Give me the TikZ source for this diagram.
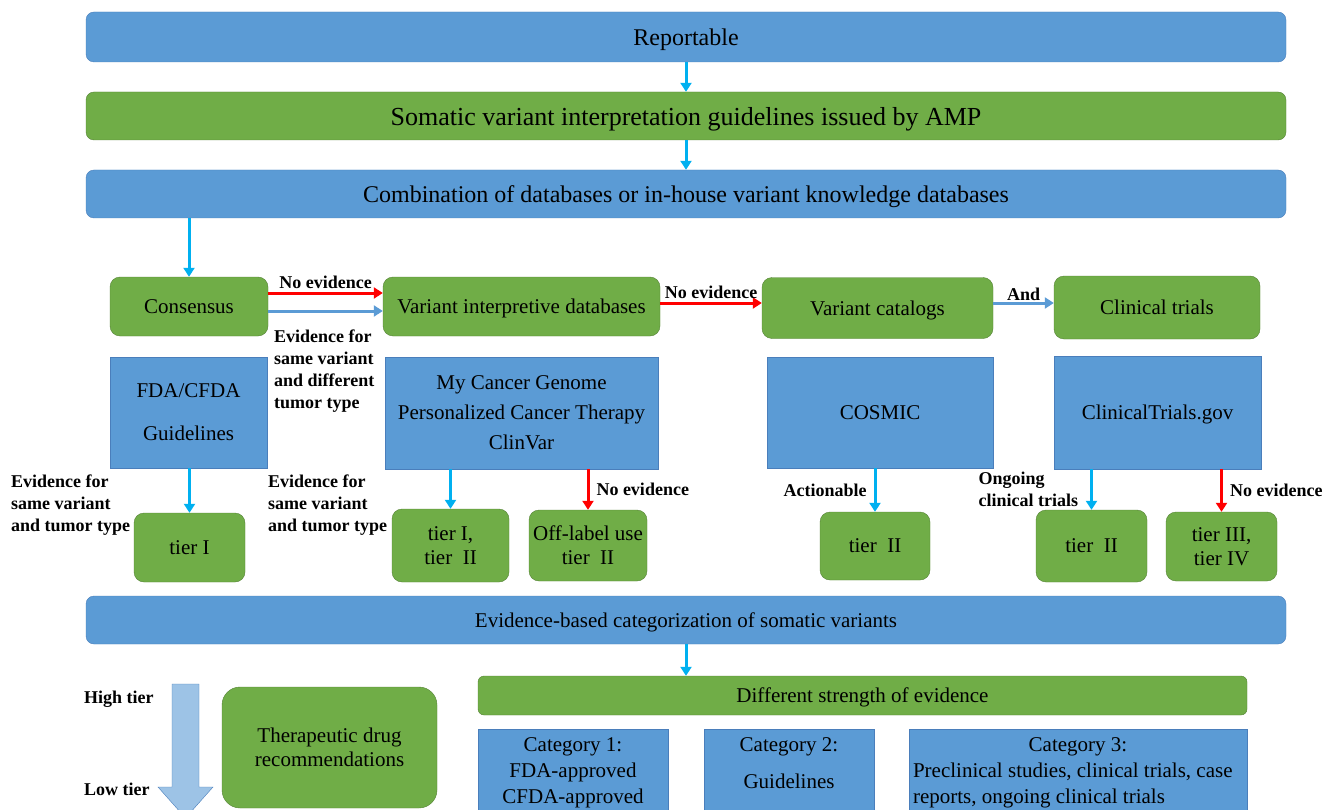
\documentclass[tikz,border=0pt]{standalone}
\usepackage{fontspec}
\setmainfont{Liberation Serif}
\usetikzlibrary{arrows.meta,calc}

\definecolor{boxblue}{HTML}{5B9BD5}
\definecolor{blueline}{HTML}{4A7EBB}
\definecolor{boxgreen}{HTML}{70AD47}
\definecolor{greenline}{HTML}{548235}
\definecolor{arrowblue}{HTML}{00B0F0}
\definecolor{tierblue}{HTML}{9DC3E6}

\tikzset{
  widebar/.style={draw=blueline, fill=boxblue, rounded corners=8pt, minimum width=1200pt, minimum height=48pt, inner sep=0pt, text depth=0pt, font=\fontsize{24}{28}\selectfont},
  greenbar/.style={widebar, draw=greenline, fill=boxgreen},
  greenbox/.style={draw=greenline, fill=boxgreen, rounded corners=10pt, align=center, inner sep=0pt, text depth=0pt, font=\fontsize{21}{24}\selectfont},
  dbbox/.style={draw=blueline, fill=boxblue, align=center, inner sep=0pt, text depth=0pt, font=\fontsize{21}{30}\selectfont},
  catbox/.style={draw=blueline, fill=boxblue, anchor=north, inner xsep=0pt, inner ysep=8pt, font=\fontsize{21}{26}\selectfont},
  tag/.style={font=\bfseries\fontsize{18}{22}\selectfont, align=left, inner sep=1pt},
  blueflow/.style={draw=arrowblue, line width=3pt, -{Triangle[length=9pt,width=11pt]}},
  redflow/.style={blueflow, draw=red},
  rowflow/.style={blueflow, draw=boxblue}
}

\begin{document}
\begin{tikzpicture}[x=1pt,y=-1pt]
      \clip (0,0) rectangle (1337,810);
      \node[widebar, minimum height=50pt] (rep) at (686,37) {Reportable};
      \node[greenbar, font=\fontsize{26}{30}\selectfont] (som) at (686,116) {Somatic variant interpretation guidelines issued by AMP};
      \node[widebar] (comb) at (686,194) {Combination of databases or in-house variant knowledge databases};
      \draw[blueflow] (rep) -- (som);
      \draw[blueflow] (som) -- (comb);

      \node[greenbox, minimum width=158pt, minimum height=59pt] (cons) at (189,306.5) {Consensus};
      \node[greenbox, minimum width=277pt, minimum height=59pt] (vid) at (521.5,306.5) {Variant interpretive databases};
      \node[greenbox, minimum width=231pt, minimum height=61pt] (vc) at (877.5,308) {Variant catalogs};
      \node[greenbox, minimum width=206pt, minimum height=63pt] (ct) at (1157,307.5) {Clinical trials};
      \draw[blueflow] (comb.south -| cons.north) -- (cons.north);
      \draw[redflow] ([yshift=13.5pt]cons.east) -- node[tag, above=2pt] (ne1) {No evidence} ([yshift=13.5pt]cons.east -| vid.west);
      \draw[rowflow] ([yshift=-4.5pt]cons.east) -- ([yshift=-4.5pt]cons.east -| vid.west);
      \draw[redflow] ([yshift=3.5pt]vid.east) -- node[tag, above=2pt] (ne2) {No evidence} ([yshift=3.5pt]vid.east -| vc.west);
      \draw[rowflow] ([yshift=5pt]vc.east) -- node[tag, above=0pt] (andl) {And} ([yshift=5pt]vc.east -| ct.west);
      \node[tag, anchor=north west] (evdiff) at (273,329) {Evidence for\\same variant\\and different\\tumor type};

      \node[dbbox, minimum width=157pt, minimum height=111pt] (fda) at (188.5,412.5) {FDA/CFDA\\[13pt]Guidelines};
      \node[dbbox, minimum width=273pt, minimum height=112pt] (mcg) at (521.5,413) {My Cancer Genome\\Personalized Cancer Therapy\\ClinVar};
      \node[dbbox, minimum width=226pt, minimum height=111pt] (cos) at (880,412.5) {COSMIC};
      \node[dbbox, minimum width=207pt, minimum height=113pt] (ctg) at (1157.5,412.5) {ClinicalTrials.gov};

      \node[greenbox, minimum width=111pt, minimum height=69pt] (t1) at (189.5,547.5) {tier I};
      \node[greenbox, minimum width=117pt, minimum height=73pt] (t12) at (450.5,545.5) {tier I,\\tier\ \ II};
      \node[greenbox, minimum width=118pt, minimum height=71pt] (offl) at (588,545.5) {Off-label use\\tier\ \ II};
      \node[greenbox, minimum width=110pt, minimum height=68pt] (t2a) at (875,546) {tier\ \ II};
      \node[greenbox, minimum width=111pt, minimum height=72pt] (t2b) at (1091.5,546) {tier\ \ II};
      \node[greenbox, minimum width=111pt, minimum height=69pt] (t34) at (1221.5,546.5) {tier III,\\tier IV};
      \draw[blueflow] (fda.south -| t1.north) -- (t1.north);
      \draw[blueflow] (mcg.south -| t12.north) -- (t12.north);
      \draw[redflow] (mcg.south -| offl.north) -- node[tag, right=6pt] (ne3) {No evidence} (offl.north);
      \draw[blueflow] (cos.south -| t2a.north) -- node[tag, left=6pt] (act) {Actionable} (t2a.north);
      \draw[blueflow] (ctg.south -| t2b.north) -- node[tag, left=11pt] (ongo) {Ongoing\\clinical trials} (t2b.north);
      \draw[redflow] (ctg.south -| t34.north) -- node[tag, right=6pt] (ne4) {No evidence} (t34.north);
      \node[tag, anchor=north west] (evsame1) at (10,474) {Evidence for\\same variant\\and tumor type};
      \node[tag, anchor=north west] (evsame2) at (267,474) {Evidence for\\same variant\\and tumor type};

      \node[widebar, font=\fontsize{21}{24}\selectfont] (ebc) at (686,620) {Evidence-based categorization of somatic variants};
      \node[greenbar, minimum width=769pt, minimum height=39pt, rounded corners=6pt, font=\fontsize{21}{24}\selectfont] (dse) at (862.5,695.5) {Different strength of evidence};
      \draw[blueflow] (ebc.south) -- (ebc.south |- dse.north);

      \draw[draw=blueline, fill=tierblue] (172,684) -- (199,684) -- (199,787) -- (213,787) -- (185.5,818) -- (158,787) -- (172,787) -- cycle;
      \node[tag, anchor=west] (hi) at (83,699) {High tier};
      \node[tag, anchor=west] (lo) at (83,789) {Low tier};
      \node[greenbox, minimum width=215pt, minimum height=121pt, rounded corners=18pt] (ther) at (329.5,747.5) {Therapeutic drug\\recommendations};

      \node[catbox] (cat1) at (573,729) {\parbox[t][90pt][t]{190pt}{\centering Category 1:\\FDA-approved\\CFDA-approved}};
      \node[catbox] (cat2) at (789,729) {\parbox[t][90pt][t]{170pt}{\centering Category 2:\\[11pt]Guidelines}};
      \node[catbox] (cat3) at (1078,729) {\parbox[t][90pt][t]{338pt}{\centering Category 3:\\\makebox[330pt][l]{Preclinical studies, clinical trials, case}\\\makebox[330pt][l]{reports, ongoing clinical trials}}};
\end{tikzpicture}
\end{document}
